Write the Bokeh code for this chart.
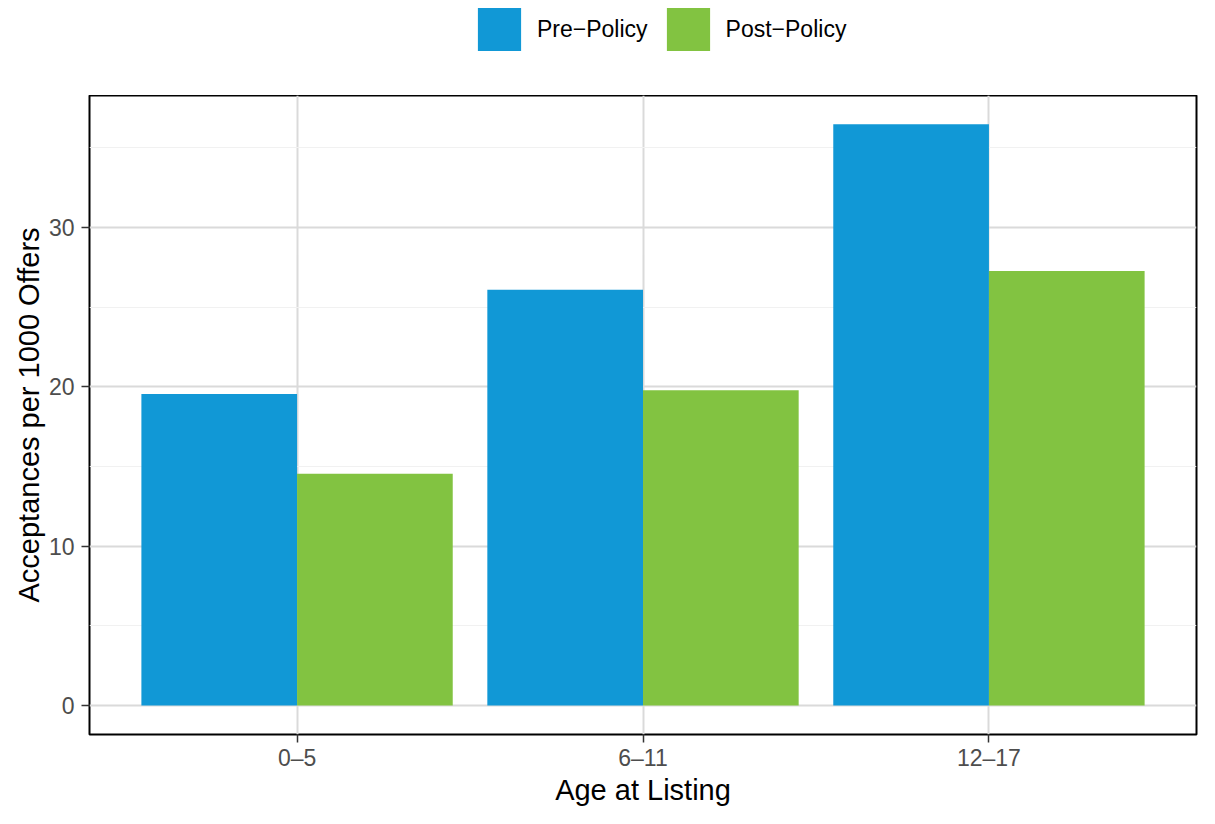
from bokeh.plotting import figure
from bokeh.models import (ColumnDataSource, Range1d, FixedTicker, Legend, LegendItem)
from bokeh.layouts import column
from bokeh.transform import dodge
from bokeh.embed import file_html
from bokeh.resources import INLINE

# ---- data ----
categories = ["0–5", "6–11", "12–17"]
series_names = ["Pre−Policy", "Post−Policy"]
pre_policy = [19.55, 26.10, 36.48]
post_policy = [14.54, 19.79, 27.28]
y_ticks = [0, 10, 20, 30]
y_minor = [5, 15, 25, 35]

colors = ["#1198D6", "#82C341"]
FONT = "Liberation Sans"
W = 1199
LEG_H = 95
MAIN_H = 808 - LEG_H

positions = list(range(1, len(categories) + 1))
src = ColumnDataSource(dict(pos=positions, cat=categories, pre=pre_policy, post=post_policy))

# ---------- main chart ----------
p = figure(width=W, height=MAIN_H, output_backend="svg", toolbar_location=None,
           x_range=Range1d(0.4, 3.6), y_range=Range1d(-1.82, 38.29),
           min_border_left=89, min_border_right=3, min_border_top=0, min_border_bottom=60)

p.background_fill_color = "white"
p.border_fill_color = "white"
p.outline_line_color = "black"
p.outline_line_width = 2

bar_w = 0.45
r_pre = p.vbar(x=dodge("pos", -bar_w / 2), top="pre", bottom=0, width=bar_w, source=src,
               fill_color=colors[0], line_color=None)
r_post = p.vbar(x=dodge("pos", bar_w / 2), top="post", bottom=0, width=bar_w, source=src,
                fill_color=colors[1], line_color=None)

p.xaxis.ticker = FixedTicker(ticks=positions)
p.xaxis.major_label_overrides = {pos: c for pos, c in zip(positions, categories)}
p.yaxis.ticker = FixedTicker(ticks=y_ticks, minor_ticks=y_minor)

for ax in (p.xaxis[0], p.yaxis[0]):
    ax.axis_line_color = None
    ax.major_tick_line_color = "#333333"
    ax.major_tick_line_width = 1.5
    ax.major_tick_out = 8
    ax.major_tick_in = 0
    ax.minor_tick_out = 0
    ax.minor_tick_in = 0
    ax.major_label_text_font = FONT
    ax.major_label_text_font_size = "23px"
    ax.major_label_text_color = "#4D4D4D"
    ax.axis_label_text_font = FONT
    ax.axis_label_text_font_size = "29px"
    ax.axis_label_text_font_style = "normal"
    ax.axis_label_text_color = "black"

p.xaxis.axis_label = "Age at Listing"
p.yaxis.axis_label = "Acceptances per 1000 Offers"
p.xaxis.major_label_standoff = 2
p.xaxis.axis_label_standoff = 0
p.yaxis.major_label_standoff = 7
p.yaxis.axis_label_standoff = 1

p.xgrid.grid_line_color = "#DADADA"
p.xgrid.grid_line_width = 2
p.ygrid.grid_line_color = "#DADADA"
p.ygrid.grid_line_width = 2
p.ygrid.minor_grid_line_color = "#F1F1F1"
p.ygrid.minor_grid_line_width = 1.2

# ---------- legend strip on top ----------
lf = figure(width=W, height=LEG_H, output_backend="svg", toolbar_location=None,
            x_range=Range1d(0.4, 3.6), y_range=Range1d(1000, 1001),
            min_border=0, outline_line_color=None)
lf.axis.visible = False
lf.grid.visible = False
lf.border_fill_color = "white"
lf.background_fill_color = "white"
l_pre = lf.vbar(x=dodge("pos", -bar_w / 2), top="pre", bottom=0, width=bar_w, source=src,
                fill_color=colors[0], line_color=None)
l_post = lf.vbar(x=dodge("pos", bar_w / 2), top="post", bottom=0, width=bar_w, source=src,
                 fill_color=colors[1], line_color=None)
legend = Legend(items=[LegendItem(label=series_names[0], renderers=[l_pre]),
                       LegendItem(label=series_names[1], renderers=[l_post])],
                orientation="horizontal", location=(383, LEG_H - 56),
                glyph_width=54, glyph_height=54, label_standoff=11, spacing=13,
                padding=0, margin=0, border_line_color=None, background_fill_alpha=0,
                label_text_font=FONT, label_text_font_size="23px", label_text_color="black")
lf.add_layout(legend, "center")

layout = column(lf, p, spacing=0)
open("out.html", "w").write(file_html(layout, INLINE))
